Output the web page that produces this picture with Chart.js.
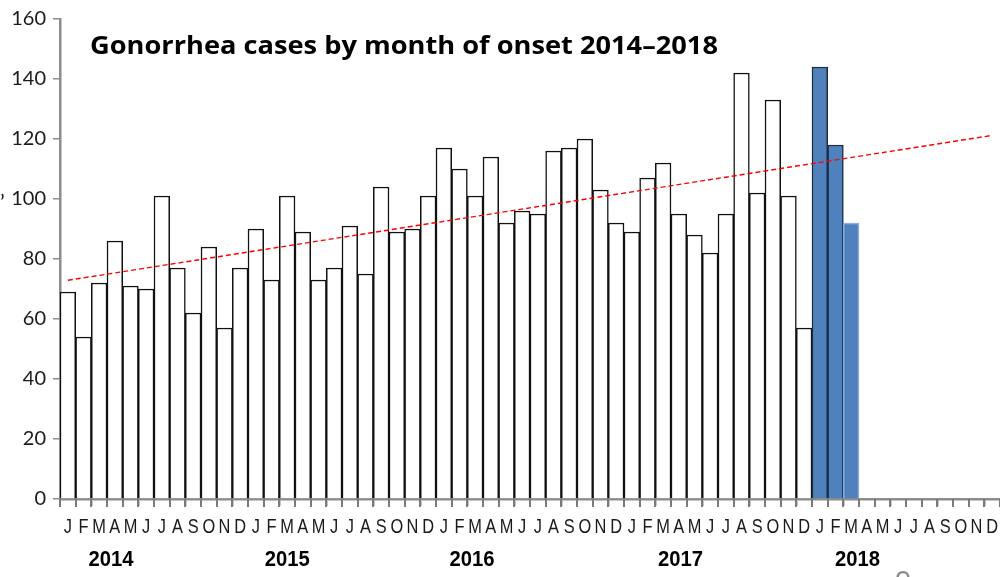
<!DOCTYPE html>
<html>
<head>
<meta charset="utf-8">
<script src="https://cdn.jsdelivr.net/npm/chart.js@4/dist/chart.umd.min.js"></script>
<style>
  html, body { margin: 0; padding: 0; background: #fff; }
  #wrap { width: 1000px; height: 577px; position: relative; }
</style>
</head>
<body>
<div id="wrap"><canvas id="chart"></canvas></div>
<script>
// Данные: случаи по месяцу начала заболевания
const monthLetters = ['J', 'F', 'M', 'A', 'M', 'J', 'J', 'A', 'S', 'O', 'N', 'D'];
const years = ['2014', '2015', '2016', '2017', '2018'];

const cases2014 = [69, 54, 72, 86, 71, 70, 101, 77, 62, 84, 57, 77];
const cases2015 = [90, 73, 101, 89, 73, 77, 91, 75, 104, 89, 90, 101];
const cases2016 = [117, 110, 101, 114, 92, 96, 95, 116, 117, 120, 103, 92];
const cases2017 = [89, 107, 112, 95, 88, 82, 95, 142, 102, 133, 101, 57];
const cases2018 = [144, 118, 92, null, null, null, null, null, null, null, null, null];

// линия тренда: значения в начале и в конце
const trendStart = 72.9;
const trendEnd = 121.2;

const titleText = 'Gonorrhea cases by month of onset 2014\u20132018';

const labels = years.flatMap(() => monthLetters);
const values = [...cases2014, ...cases2015, ...cases2016, ...cases2017, ...cases2018];
const trend = values.map((_, i) => i === 0 ? trendStart : (i === values.length - 1 ? trendEnd : null));

// 2018 — синие столбцы
const firstIdx2018 = 48;
const fillColors = values.map((_, i) => i >= firstIdx2018 ? '#4f81bd' : '#ffffff');
const borderColors = values.map((_, i) => {
    if (i < firstIdx2018) return '#111111';
    if (i === firstIdx2018 + 2) return '#86aee0';
    return '#1d2b45';
});

const axisGray = '#8c8c8c';

const overlayText = {
    id: 'overlayText',
    afterDraw(chart) {
        const ctx = chart.ctx;
        const x = chart.scales.x;
        const area = chart.chartArea;
        ctx.save();

        // засечки оси X между месяцами
        const step = (area.right - area.left) / labels.length;
        ctx.fillStyle = '#7a7a7a';
        for (let i = 0; i <= labels.length; i++) {
            const px = Math.round(area.left + step * i);
            ctx.fillRect(px - 1, area.bottom, 2, 8);
        }

        // заголовок, подогнан по ширине
        ctx.fillStyle = '#000';
        ctx.font = 'bold 25px "Open Sans", Lato, sans-serif';
        ctx.textAlign = 'left';
        ctx.textBaseline = 'alphabetic';
        const tw = ctx.measureText(titleText).width;
        ctx.save();
        ctx.translate(90, 54);
        ctx.scale(628 / tw, 1);
        ctx.fillText(titleText, 0, 0);
        ctx.restore();

        // буквы месяцев (узкий шрифт)
        ctx.fillStyle = '#1a1a1a';
        ctx.font = '21px "Liberation Sans", Arial, sans-serif';
        ctx.textAlign = 'center';
        labels.forEach((m, i) => {
            const px = x.getPixelForValue(i);
            ctx.save();
            ctx.translate(px, 533);
            ctx.scale(0.78, 1);
            ctx.fillText(m, 0, 0);
            ctx.restore();
        });

        // подписи годов
        const yearShift = [2.75, 2.0, 1.8, 3.1, 2.4];
        ctx.fillStyle = '#000';
        ctx.font = 'bold 22px "Liberation Sans", Arial, sans-serif';
        years.forEach((yr, k) => {
            const a = x.getPixelForValue(k * 12);
            const b = x.getPixelForValue(k * 12 + 1);
            const px = a + (b - a) * yearShift[k];
            ctx.save();
            ctx.translate(px, 566);
            ctx.scale(0.92, 1);
            ctx.fillText(yr, 0, 0);
            ctx.restore();
        });

        // обрезки со слайда
        ctx.textAlign = 'left';
        ctx.fillStyle = '#222';
        ctx.font = '22px Lato, sans-serif';
        ctx.fillText('\u2019', 0, 210);
        ctx.fillStyle = '#8a8a8a';
        ctx.font = '28px Lato, sans-serif';
        ctx.fillText('9', 895, 592);
        ctx.restore();
    }
};

new Chart(document.getElementById('chart'), {
    type: 'bar',
    data: {
        labels: labels,
        datasets: [
            {
                type: 'line',
                data: trend,
                borderColor: '#ff0000',
                borderWidth: 1.4,
                borderDash: [5, 3],
                pointRadius: 0,
                spanGaps: true,
                fill: false,
                order: 0
            },
            {
                data: values,
                backgroundColor: fillColors,
                borderColor: borderColors,
                borderWidth: 1.5,
                barPercentage: 1,
                categoryPercentage: 1,
                borderSkipped: 'bottom',
                order: 1
            }
        ]
    },
    options: {
        responsive: true,
        maintainAspectRatio: false,
        animation: false,
        layout: { padding: { top: 18, right: 0, left: 0, bottom: 0 } },
        plugins: {
            legend: { display: false },
            tooltip: { enabled: false },
            title: { display: false }
        },
        scales: {
            x: {
                afterFit(scale) { scale.height = 78; scale.paddingRight = 0; scale.paddingLeft = 0; },
                grid: {
                    display: true,
                    drawOnChartArea: false,
                    drawTicks: true,
                    tickLength: 7,
                    color: axisGray,
                    lineWidth: 1.5,
                    offset: true
                },
                border: { display: true, color: axisGray, width: 2.5 },
                // подписи рисуются плагином, здесь прозрачные
                ticks: {
                    autoSkip: false,
                    maxRotation: 0,
                    minRotation: 0,
                    padding: 8,
                    color: 'rgba(0,0,0,0)',
                    font: { family: '"Liberation Sans", Arial, sans-serif', size: 16 }
                }
            },
            y: {
                min: 0,
                max: 160,
                afterFit(scale) { scale.width = 60; },
                grid: {
                    display: true,
                    drawOnChartArea: false,
                    drawTicks: true,
                    tickLength: 7,
                    color: axisGray,
                    lineWidth: 1.5
                },
                border: { display: true, color: axisGray, width: 2.5 },
                ticks: {
                    stepSize: 20,
                    padding: 7,
                    color: '#1a1a1a',
                    font: { family: 'Lato, "Open Sans", sans-serif', size: 20 }
                }
            }
        }
    },
    plugins: [overlayText]
});
</script>
</body>
</html>
